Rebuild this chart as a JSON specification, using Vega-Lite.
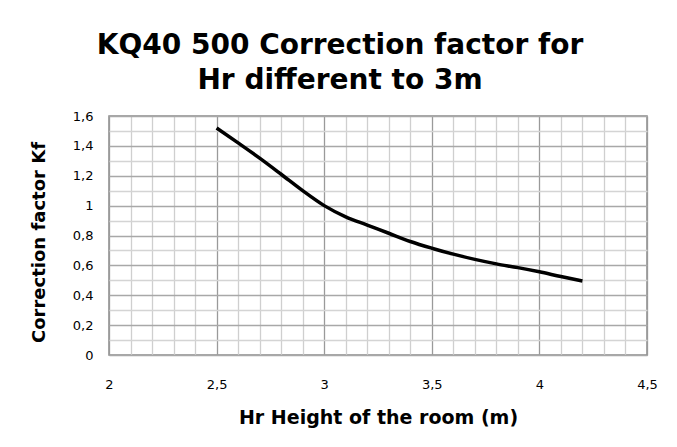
{
  "$schema": "https://vega.github.io/schema/vega-lite/v6.json",
  "width": 538,
  "height": 239,
  "autosize": "none",
  "padding": {"left": 109, "top": 116, "right": 30, "bottom": 92},
  "background": "white",
  "title": {
    "text": ["KQ40 500 Correction factor for", "Hr different to 3m"],
    "font": "DejaVu Sans",
    "fontSize": 28,
    "fontWeight": "bold",
    "color": "#000000",
    "anchor": "middle",
    "dx": -38,
    "offset": 15,
    "lineHeight": 35
  },
  "config": {
    "view": {"stroke": "#8a8a8a", "strokeWidth": 1.5},
    "axis": {"domain": false, "ticks": false}
  },
  "data": {
    "values": [
      {"hr": 2.5, "kf": 1.52},
      {"hr": 2.6, "kf": 1.42},
      {"hr": 2.7, "kf": 1.318},
      {"hr": 2.8, "kf": 1.21},
      {"hr": 2.9, "kf": 1.10},
      {"hr": 3.0, "kf": 1.0},
      {"hr": 3.1, "kf": 0.925},
      {"hr": 3.2, "kf": 0.87},
      {"hr": 3.3, "kf": 0.815},
      {"hr": 3.4, "kf": 0.76},
      {"hr": 3.5, "kf": 0.715},
      {"hr": 3.6, "kf": 0.675},
      {"hr": 3.7, "kf": 0.64},
      {"hr": 3.8, "kf": 0.61},
      {"hr": 3.9, "kf": 0.585},
      {"hr": 4.0, "kf": 0.557},
      {"hr": 4.1, "kf": 0.525},
      {"hr": 4.2, "kf": 0.495}
    ]
  },
  "mark": {"type": "line", "color": "#000000", "strokeWidth": 3.5, "interpolate": "monotone", "strokeCap": "butt"},
  "encoding": {
    "x": {
      "field": "hr",
      "type": "quantitative",
      "scale": {"domain": [2, 4.5], "nice": false, "zero": false},
      "axis": {
        "values": [2, 2.1, 2.2, 2.3, 2.4, 2.5, 2.6, 2.7, 2.8, 2.9, 3, 3.1, 3.2, 3.3, 3.4, 3.5, 3.6, 3.7, 3.8, 3.9, 4, 4.1, 4.2, 4.3, 4.4, 4.5],
        "labelExpr": "abs(datum.value*2 - round(datum.value*2)) < 0.001 ? replace(format(datum.value, '~g'), '.', ',') : ''",
        "grid": true,
        "gridColor": {"condition": {"test": "abs(datum.value*2 - round(datum.value*2)) < 0.001", "value": "#9a9a9a"}, "value": "#cfcfcf"},
        "gridWidth": 1.3,
        "labelFont": "DejaVu Sans",
        "labelFontSize": 13,
        "labelColor": "#000000",
        "labelPadding": 23,
        "labelFlush": false,
        "title": "Hr Height of the room (m)",
        "titleFont": "DejaVu Sans",
        "titleFontSize": 19,
        "titleFontWeight": "bold",
        "titleColor": "#000000",
        "titlePadding": 17
      }
    },
    "y": {
      "field": "kf",
      "type": "quantitative",
      "scale": {"domain": [0, 1.6], "nice": false},
      "axis": {
        "values": [0, 0.1, 0.2, 0.3, 0.4, 0.5, 0.6, 0.7, 0.8, 0.9, 1, 1.1, 1.2, 1.3, 1.4, 1.5, 1.6],
        "labelExpr": "abs(datum.value*5 - round(datum.value*5)) < 0.001 ? replace(format(datum.value, '~g'), '.', ',') : ''",
        "grid": true,
        "gridColor": {"condition": {"test": "abs(datum.value*5 - round(datum.value*5)) < 0.001", "value": "#a8a8a8"}, "value": "#d4d4d4"},
        "gridWidth": 1.3,
        "labelFont": "DejaVu Sans",
        "labelFontSize": 13,
        "labelColor": "#000000",
        "labelPadding": 16,
        "labelFlush": false,
        "title": "Correction factor Kf",
        "titleFont": "DejaVu Sans",
        "titleFontSize": 18,
        "titleFontWeight": "bold",
        "titleColor": "#000000",
        "titlePadding": 24,
        "titleY": 126
      }
    }
  }
}
